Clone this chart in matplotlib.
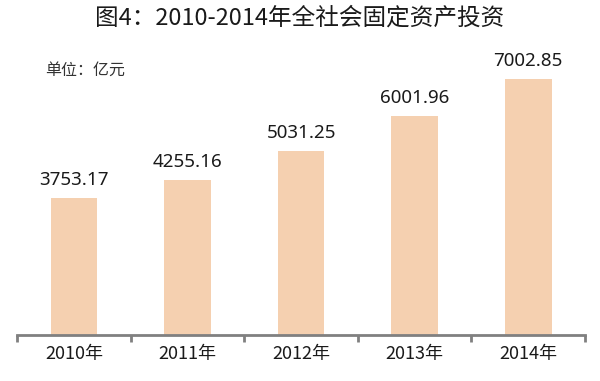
import numpy as np
import matplotlib.pyplot as plt

plt.rcParams['font.family'] = ['Noto Sans CJK SC', 'DejaVu Sans']

years = ['2010年', '2011年', '2012年', '2013年', '2014年']
values = [3753.17, 4255.16, 5031.25, 6001.96, 7002.85]
labels = ['3753.17', '4255.16', '5031.25', '6001.96', '7002.85']
title = '图4：2010-2014年全社会固定资产投资'

fig = plt.figure(figsize=(6, 3.81), dpi=100)
ax = fig.add_axes([0.029, 0.121, 0.946, 0.766])

x = np.arange(len(values))
ax.bar(x, values, width=0.41, color='#F5D0B0')
for xi, v, t in zip(x, values, labels):
    ax.text(xi, v + 250, t, ha='center', va='bottom', fontsize=13.5,
            family=['Noto Sans', 'DejaVu Sans'], color='#1a1a1a')

ax.set_xlim(-0.5, len(values) - 0.5)
ax.set_ylim(0, 8000)
for s in ['top', 'right', 'left']:
    ax.spines[s].set_visible(False)
ax.spines['bottom'].set_color('#808080')
ax.spines['bottom'].set_linewidth(2)
ax.set_yticks([])

# ticks at category boundaries, labels centred
ax.set_xticks(np.arange(-0.5, len(values)), minor=False)
ax.set_xticklabels([])
ax.tick_params(axis='x', which='major', length=5, width=2, color='#808080')
ax.set_xticks(x, minor=True)
ax.set_xticklabels(years, minor=True, fontsize=13, color='#1a1a1a')
ax.tick_params(axis='x', which='minor', length=0, pad=7)

fig.text(0.5, 0.952, title, ha='center', va='center',
         fontsize=17, color='#1a1a1a')
fig.text(0.075, 0.815, '单位：亿元', ha='left', va='center', fontsize=11.5,
         color='#333333')

fig.savefig('out.png', dpi=100)
